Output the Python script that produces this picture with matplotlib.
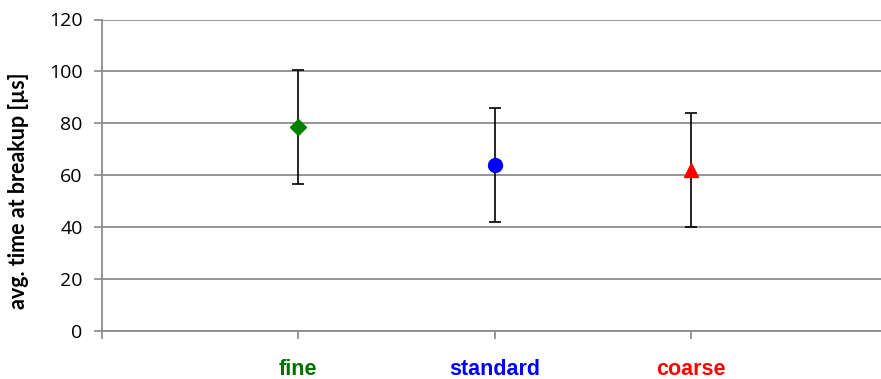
import matplotlib
matplotlib.use("Agg")
import matplotlib.pyplot as plt

categories = ["fine", "standard", "coarse"]
means = [78.5, 64, 62]
errors = [22, 22, 22]
markers = ["D", "o", "^"]
marker_colors = ["#008000", "#0000FF", "#FF0000"]
label_colors = ["#007000", "#0000FF", "#FF0000"]
yticks = [0, 20, 40, 60, 80, 100, 120]

fig = plt.figure(figsize=(8.81, 3.79), dpi=100)
ax = fig.add_axes([102/881, 1-331/379, (887-102)/881, (331-19.5)/379])

xs = [1, 2, 3]
for x, m, e, mk, c in zip(xs, means, errors, markers, marker_colors):
    ax.errorbar([x], [m], yerr=[e], fmt="none", ecolor="black", elinewidth=1.2,
                capsize=4, capthick=1.2, zorder=3)
    ax.plot([x], [m], marker=mk, color=c, markersize=10 if mk != "D" else 8,
            linestyle="none", zorder=4)

ax.set_xlim(0, 4)
ax.set_ylim(0, 120)
ax.set_yticks(yticks)
ax.set_yticklabels([str(v) for v in yticks], family=["Open Sans", "DejaVu Sans"], fontsize=14)
ax.set_xticks([0] + xs)
ax.set_xticklabels([""] + categories)
for lbl, c in zip(ax.get_xticklabels()[1:], label_colors):
    lbl.set_color(c)
    lbl.set_fontweight("bold")
    lbl.set_fontfamily("Liberation Sans")
    lbl.set_fontsize(15.5)
ax.tick_params(axis="x", direction="out", length=6, color="#888888", width=1.2, pad=14)
ax.tick_params(axis="y", direction="out", length=6, color="#888888", width=1.2, pad=8)

ax.grid(axis="y", color="#8c8c8c", linewidth=1.3)
ax.set_axisbelow(True)
for s in ["top", "right"]:
    ax.spines[s].set_visible(False)
ax.spines["left"].set_color("#8c8c8c")
ax.spines["bottom"].set_color("#8c8c8c")
ax.spines["left"].set_linewidth(1.3)
ax.spines["bottom"].set_linewidth(1.3)

ax.set_ylabel("avg. time at breakup [µs]", fontsize=15.5, fontweight="bold",
              family=["Lato", "DejaVu Sans"])
ax.yaxis.set_label_coords(-0.093, 0.45)

fig.savefig("out.png", dpi=100)
